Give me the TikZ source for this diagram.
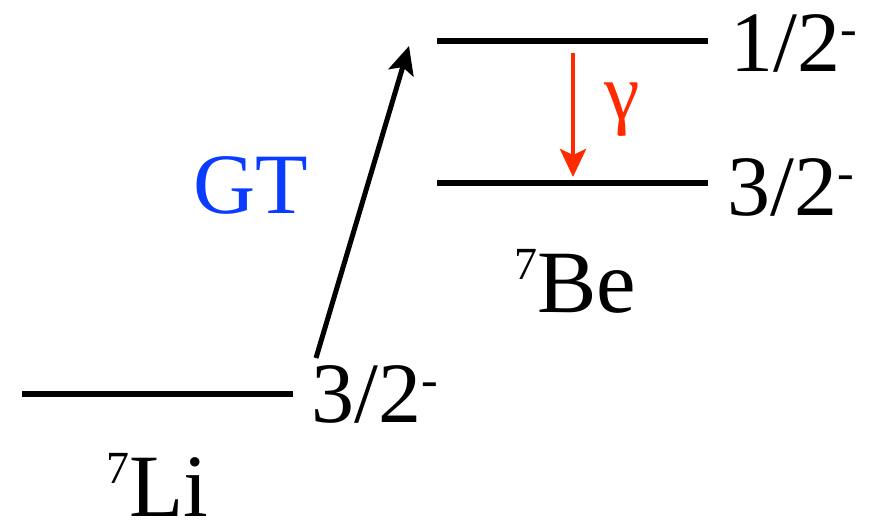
\documentclass[tikz,border=0pt]{standalone}
\usepackage{fontspec}
\setmainfont{Liberation Serif}
\usetikzlibrary{arrows.meta, positioning}
\definecolor{gtblue}{HTML}{0A3CFF}
\definecolor{gammared}{HTML}{FF2A00}
% raised small text: raise (pt), size (pt), text
\newcommand\raisedat[3]{\raisebox{#1pt}{\fontsize{#2}{#2}\selectfont #3}}
\newcommand\parity{\raisedat{26}{50}{-}}
\newcommand\massnum[1]{\raisedat{33}{46}{#1}}

\begin{document}
\begin{tikzpicture}[
    x=1pt, y=-1pt,
    level/.style={line width=6pt},
    spin/.style={anchor=base west, inner sep=0pt, font=\fontsize{86}{96}\selectfont},
    nucl/.style={anchor=base west, inner sep=0pt, font=\fontsize{#1}{#1}\selectfont},
    arrow/.style={-{Stealth[length=28pt, width=26pt, inset=6pt]}, line width=5pt},
]
    \useasboundingbox (0,0) rectangle (874,524);

    % 7Li ground state
    \coordinate (li-l) at (22, 394);
    \coordinate (li-r) at (293, 394);
    \draw[level] (li-l) -- (li-r);
    \node[spin] (li-spin) at (311, 422) {3/2\parity};
    \node[nucl=89] (li) at (106, 516) {\massnum{7}Li};

    % 7Be states
    \coordinate (be1-l) at (437, 41);
    \coordinate (be1-r) at (708, 41);
    \coordinate (be0-l) at (437, 183);
    \coordinate (be0-r) at (708, 183);
    \draw[level] (be1-l) -- (be1-r);
    \draw[level] (be0-l) -- (be0-r);
    \node[spin] (be1-spin) at (730, 72) {1/2\parity};
    \node[spin] (be0-spin) at (727, 215) {3/2\parity};
    \node[nucl=89] (be) at (514, 312) {\massnum{7}Be};

    % GT transition
    \coordinate (gt-from) at (316, 358);
    \coordinate (gt-to) at (409, 46);
    \draw[arrow] (gt-from) -- (gt-to);
    \node[spin, text=gtblue] (gt) at (193, 213) {GT};

    % gamma decay
    \coordinate (g-from) at (573, 53);
    \coordinate (g-to) at (573, 177);
    \draw[arrow, gammared, line width=4.5pt] (g-from) -- (g-to);
    \node[nucl=80, text=gammared] (gamma) at (604, 120) {γ};
\end{tikzpicture}
\end{document}
